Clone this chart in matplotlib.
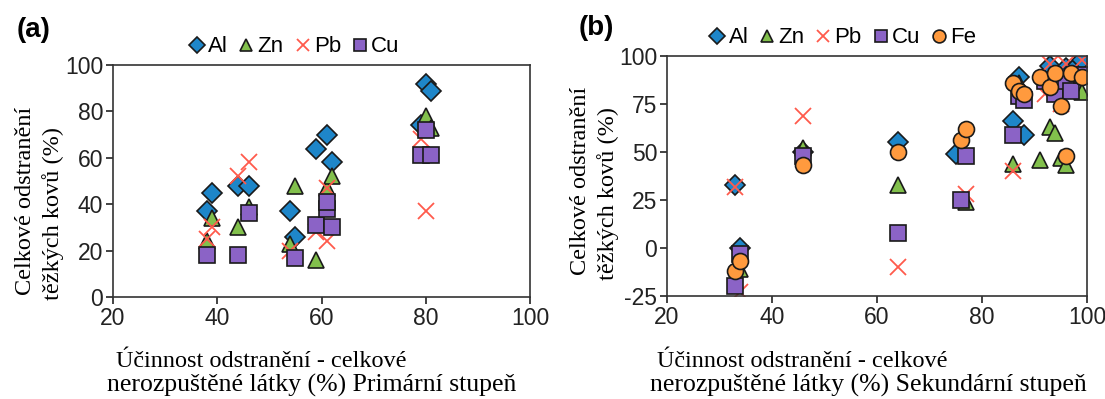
import matplotlib
matplotlib.use("Agg")
from matplotlib import pyplot as plt
from matplotlib.lines import Line2D

plt.rcParams["axes.unicode_minus"] = False

# panel (a) - primary stage
a_al_x = [38, 39, 44, 46, 54, 55, 59, 61, 62, 79, 80, 81]
a_al_y = [37, 45, 48, 48, 37, 26, 64, 70, 58, 74, 92, 89]
a_zn_x = [38, 39, 44, 46, 54, 55, 59, 61, 62, 80, 81]
a_zn_y = [24, 34, 30, 39, 23, 48, 16, 47, 52, 78, 73]
a_pb_x = [38, 39, 44, 46, 54, 59, 61, 61, 79, 80]
a_pb_y = [25, 30, 52, 58, 20, 28, 24, 47, 68, 37]
a_cu_x = [38, 44, 46, 55, 59, 61, 61, 62, 79, 80, 81]
a_cu_y = [18, 18, 36, 17, 31, 38, 41, 30, 61, 72, 61]

# panel (b) - secondary stage
b_al_x = [33, 34, 46, 64, 75, 86, 87, 88, 93, 96, 97.5, 99]
b_al_y = [33, 0, 50, 55, 49, 66, 89, 59, 95, 94, 93, 98]
b_zn_x = [34, 46, 64, 77, 86, 87, 91, 93, 94, 95, 96, 99]
b_zn_y = [-11, 52, 33, 24, 44, 86, 46, 63, 60, 47, 43, 81]
b_pb_x = [33, 34, 46, 64, 77, 86, 92, 93, 95, 96, 99]
b_pb_y = [32, -23, 69, -10, 28, 40, 80, 96, 75, 96, 98]
b_cu_x = [33, 34, 46, 64, 76, 77, 86, 87, 88, 92, 94, 96, 97, 99]
b_cu_y = [-20, -3, 48, 8, 25, 48, 59, 79, 77, 87, 80, 87, 82, 90]
b_fe_x = [33, 34, 46, 64, 76, 77, 86, 87, 88, 91, 93, 94, 95, 96, 97, 99]
b_fe_y = [-12, -7, 43, 50, 56, 62, 86, 82, 80, 89, 84, 91, 74, 48, 91, 89]

x_ticks = [20, 40, 60, 80, 100]
a_y_ticks = [0, 20, 40, 60, 80, 100]
b_y_ticks = [-25, 0, 25, 50, 75, 100]

styles = {
    "Al": dict(marker="D", color="#1e86c9", ms=10.5, mec="#1a1a1a", mew=1.2),
    "Zn": dict(marker="^", color="#82c04c", ms=11.5, mec="#1a1a1a", mew=1.2),
    "Pb": dict(marker="x", color="#ff5a4c", ms=11.5, mew=1.3),
    "Cu": dict(marker="s", color="#8b63c6", ms=11.5, mec="#1a1a1a", mew=1.2),
    "Fe": dict(marker="o", color="#ff9a3e", ms=11.5, mec="#1a1a1a", mew=1.2),
}

sans = ["Liberation Sans", "DejaVu Sans"]
serif = ["Liberation Serif", "DejaVu Serif"]

fig = plt.figure(figsize=(11.05, 3.99), dpi=100)
ax_a = fig.add_axes([0.1023, 0.2556, 0.3774, 0.5815])
ax_b = fig.add_axes([0.6036, 0.2581, 0.3801, 0.6015])

series_a = [("Al", a_al_x, a_al_y), ("Zn", a_zn_x, a_zn_y), ("Pb", a_pb_x, a_pb_y), ("Cu", a_cu_x, a_cu_y)]
series_b = [("Al", b_al_x, b_al_y), ("Zn", b_zn_x, b_zn_y), ("Pb", b_pb_x, b_pb_y),
            ("Cu", b_cu_x, b_cu_y), ("Fe", b_fe_x, b_fe_y)]

for ax, series, yticks, leg_x in [(ax_a, series_a, a_y_ticks, 0.43), (ax_b, series_b, b_y_ticks, 0.415)]:
    for name, xs, ys in series:
        ax.plot(xs, ys, linestyle="none", **styles[name])
    ax.set_xlim(20, 100)
    ax.set_ylim(yticks[0], yticks[-1])
    ax.set_xticks(x_ticks)
    ax.set_yticks(yticks)
    ax.tick_params(direction="out", length=5, width=1.2, labelsize=16.5, pad=2, colors="#222222")
    for lab in ax.get_xticklabels() + ax.get_yticklabels():
        lab.set_family(sans)
    for sp in ax.spines.values():
        sp.set_color("#333333")
        sp.set_linewidth(1.2)

    handles = [Line2D([], [], linestyle="none", **dict(styles[n], ms=styles[n]["ms"] * 0.8)) for n, _, _ in series]
    labels = [n for n, _, _ in series]
    ax.legend(handles, labels, loc="lower center", bbox_to_anchor=(leg_x, 0.99), ncol=len(series),
              frameon=False, handletextpad=0.0, columnspacing=0.35, handlelength=1.0,
              borderaxespad=0.05, prop={"family": sans, "size": 16})

# panel letters
fig.text(0.015, 0.925, "(a)", fontsize=20, fontweight="bold", family=sans, va="center")
fig.text(0.524, 0.93, "(b)", fontsize=20, fontweight="bold", family=sans, va="center")

# y labels
for x0, y1, y2 in [(0.023, 0.496, 0.466), (0.525, 0.546, 0.516)]:
    fig.text(x0, y1, "Celkové odstranění", rotation=90, fontsize=17.5, family=serif, ha="center", va="center")
    fig.text(x0 + 0.0253, y2, "těžkých kovů (%)", rotation=90, fontsize=17.5, family=serif, ha="center", va="center")

# x labels
fig.text(0.105, 0.095, "Účinnost odstranění - celkové", fontsize=17.5, family=serif, va="center")
fig.text(0.097, 0.035, "nerozpuštěné látky (%) Primární stupeň", fontsize=18.5, family=serif, va="center")
fig.text(0.595, 0.095, "Účinnost odstranění - celkové", fontsize=17.5, family=serif, va="center")
fig.text(0.588, 0.035, "nerozpuštěné látky (%) Sekundární stupeň", fontsize=18.5, family=serif, va="center")

fig.savefig("out.png", dpi=100)
